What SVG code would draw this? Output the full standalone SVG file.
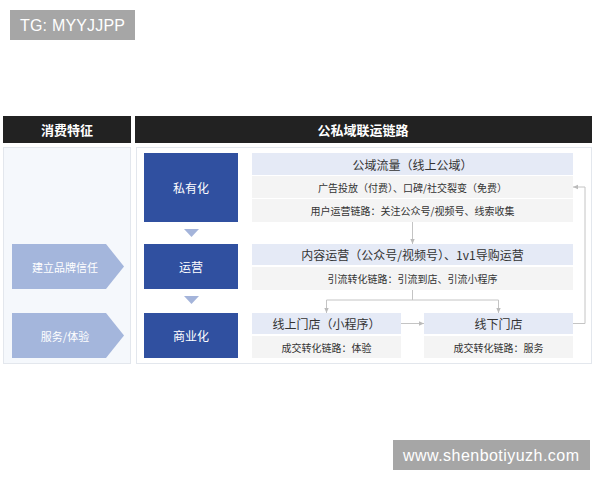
<svg xmlns="http://www.w3.org/2000/svg" width="600" height="480" viewBox="0 0 600 480">
<defs>
<style>
.t{font-family:"Noto Sans CJK SC","Noto Sans",sans-serif;text-anchor:middle;dominant-baseline:central}
.hd{fill:#222}
.hdt{fill:#fff;font-size:13px;font-weight:bold}
.blue{fill:#3050a0}
.bt{fill:#fff;font-size:12px}
.row1{fill:#e5eaf6}
.row2{fill:#f4f4f4}
.r1t{fill:#333;font-size:12px}
.r2t{fill:#333;font-size:10px}
.arr{fill:#a4b6dc}
.at{fill:#fff;font-size:11px}
.tri{fill:#a4b4da}
.ln{fill:none;stroke:#c4c4c4;stroke-width:1}
.wm{fill:#a6a6a6}
.wmt{font-family:"Liberation Sans",Arial,sans-serif;fill:#fff;font-size:16px;dominant-baseline:central}
</style>
<marker id="ah" markerWidth="6" markerHeight="6" refX="5" refY="3" orient="auto" markerUnits="userSpaceOnUse">
<path d="M0,0.8 L5,3 L0,5.2 Z" fill="#bbb"/>
</marker>
</defs>
<rect width="600" height="480" fill="#fff"/>
<g id="tg"><rect x="10" y="10" width="125" height="30" class="wm"/><text x="20" y="25" class="wmt" textLength="105">TG: MYYJJPP</text></g>
<g id="header-left"><rect x="3" y="116" width="128" height="27" class="hd"/><text x="67" y="129.5" class="t hdt">消费特征</text></g>
<g id="header-right"><rect x="135" y="116" width="457" height="27" class="hd"/><text x="363" y="129.5" class="t hdt">公私域联运链路</text></g>
<g id="panel-left"><rect x="3.5" y="147.5" width="127" height="216" fill="#f5f8fc" stroke="#e3e7ed"/></g>
<g id="panel-right"><rect x="136.5" y="147.5" width="455" height="216" fill="#fff" stroke="#e3e7ed"/></g>
<g id="trust"><polygon points="12,244 106,244 124,266.5 106,289 12,289" class="arr"/><text x="65" y="266.5" class="t at">建立品牌信任</text></g>
<g id="service"><polygon points="12,313 106,313 124,335.5 106,358 12,358" class="arr"/><text x="65" y="335.5" class="t at">服务/体验</text></g>
<g id="private"><rect x="144" y="153" width="94" height="69" class="blue"/><text x="191" y="187.5" class="t bt">私有化</text></g>
<g id="tri1"><polygon points="184,229 199,229 191.5,237" class="tri"/></g>
<g id="ops"><rect x="144" y="244" width="94" height="45" class="blue"/><text x="191" y="266.5" class="t bt">运营</text></g>
<g id="tri2"><polygon points="184,296 199,296 191.5,304" class="tri"/></g>
<g id="commerce"><rect x="144" y="313" width="94" height="45" class="blue"/><text x="191" y="335.5" class="t bt">商业化</text></g>
<g id="public">
<rect x="252" y="153" width="321" height="22" class="row1"/><text x="412.5" y="164" class="t r1t">公域流量（线上公域）</text>
<rect x="252" y="176" width="321" height="22" class="row2"/><text x="412.5" y="187" class="t r2t">广告投放（付费）、口碑/社交裂变（免费）</text>
<rect x="252" y="199" width="321" height="23" class="row2"/><text x="412.5" y="210.5" class="t r2t">用户运营链路：关注公众号/视频号、线索收集</text>
</g>
<g id="content">
<rect x="252" y="244" width="321" height="21" class="row1"/><text x="412.5" y="254.5" class="t r1t">内容运营（公众号/视频号）、1v1导购运营</text>
<rect x="252" y="267" width="321" height="23" class="row2"/><text x="412.5" y="278.5" class="t r2t">引流转化链路：引流到店、引流小程序</text>
</g>
<g id="online">
<rect x="252" y="313" width="149" height="21" class="row1"/><text x="326.5" y="323.5" class="t r1t">线上门店（小程序）</text>
<rect x="252" y="336" width="149" height="22" class="row2"/><text x="326.5" y="347" class="t r2t">成交转化链路：体验</text>
</g>
<g id="offline">
<rect x="424" y="313" width="149" height="21" class="row1"/><text x="498.5" y="323.5" class="t r1t">线下门店</text>
<rect x="424" y="336" width="149" height="22" class="row2"/><text x="498.5" y="347" class="t r2t">成交转化链路：服务</text>
</g>
<g id="connectors">
<path d="M412.5,222 V244" class="ln" marker-end="url(#ah)"/>
<path d="M412.5,290 V300 M326.5,300 H498.5" class="ln"/>
<path d="M326.5,300 V313" class="ln" marker-end="url(#ah)"/>
<path d="M498.5,300 V313" class="ln" marker-end="url(#ah)"/>
<path d="M401,323.5 H424" class="ln" marker-end="url(#ah)"/>
<path d="M573,323.5 H585 V187 H573" class="ln" marker-end="url(#ah)"/>
</g>
<g id="watermark"><rect x="393" y="440" width="197" height="30" class="wm"/><text x="403" y="455" class="wmt" textLength="176">www.shenbotiyuzh.com</text></g>
</svg>
